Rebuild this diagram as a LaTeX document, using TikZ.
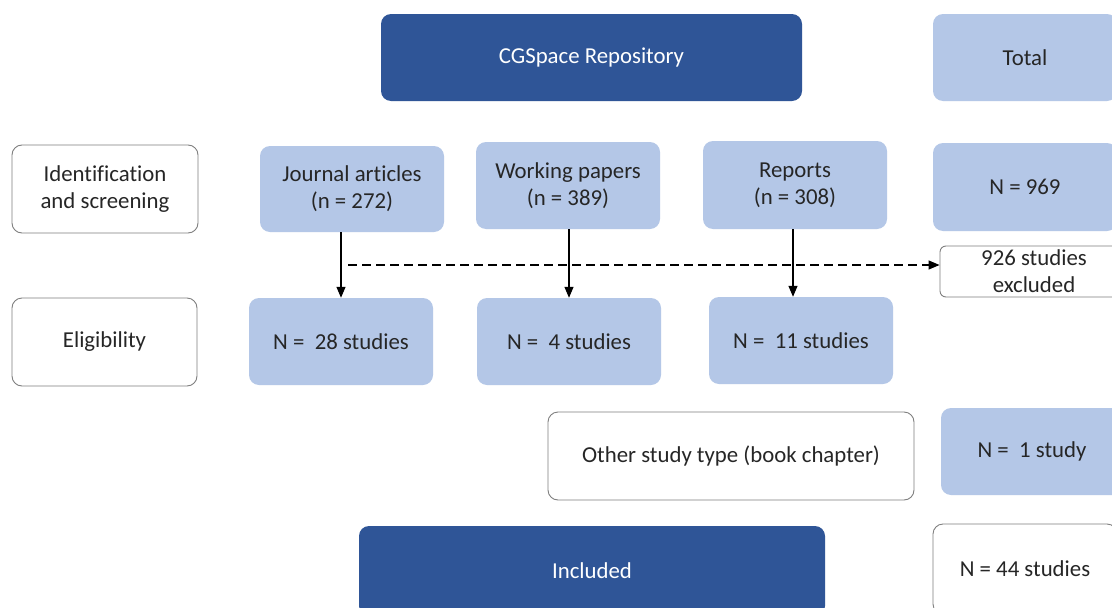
\documentclass[tikz,border=0pt]{standalone}
\usepackage{fontspec}
\setmainfont{Carlito}[Ligatures=NoCommon]
\usetikzlibrary{arrows.meta}
\definecolor{dkblue}{HTML}{2F5597}
\definecolor{ltblue}{HTML}{B4C7E7}
\definecolor{bgray}{HTML}{7F7F7F}
\tikzset{
  box/.style={rounded corners=10pt, minimum width=184pt, minimum height=87pt, align=center, inner sep=2pt, font=\fontsize{22.8pt}{27pt}\selectfont},
  dark/.style={box, fill=dkblue, text=white},
  light/.style={box, fill=ltblue, text=black!85},
  plain/.style={box, draw=bgray, line width=0.9pt, fill=white, text=black!85},
  arr/.style={line width=1.2pt, -{Triangle[length=11pt,width=9pt]}},
}
\begin{document}
\begin{tikzpicture}[x=1pt,y=-1pt]
\useasboundingbox (0,0) rectangle (1112,608);
\clip (0,0) rectangle (1112,608);
\fill[white] (0,0) rectangle (1112,608);
% top row
\node[dark, minimum width=421pt] (cg) at (591.5,57.5) {CGSpace Repository};
\node[light] (total) at (1025,57.5) {Total};
% identification row
\node[plain, minimum width=186pt, minimum height=88pt] (ident) at (105,189) {Identification\\and screening};
\node[light, minimum height=86pt] (ja) at (352,189) {Journal articles\\(n = 272)};
\node[light] (wp) at (568,185.5) {Working papers\\(n = 389)};
\node[light, minimum height=88pt] (rep) at (795,185) {Reports\\(n = 308)};
\node[light, minimum height=88pt] (n969) at (1025,187) {N = 969};
\node[plain, minimum width=188pt, minimum height=51pt, rounded corners=6pt, inner sep=0pt] (excl) at (1034,271.5) {926 studies\\excluded};
% eligibility row
\node[plain, minimum width=185pt, minimum height=88pt] (elig) at (104.5,342) {Eligibility};
\node[light] (n28) at (341,341.5) {N =\ \ 28 studies};
\node[light] (n4) at (569,341.5) {N =\ \ 4 studies};
\node[light] (n11) at (801,340.5) {N =\ \ 11 studies};
% other row
\node[plain, minimum width=366pt, minimum height=88pt] (other) at (731,456) {Other study type (book chapter)};
\node[light, minimum width=182pt] (n1) at (1032,451.5) {N =\ \ 1 study};
% included row
\node[dark, minimum width=466pt, minimum height=90pt] (incl) at (592,571) {Included};
\node[plain, minimum width=184pt, minimum height=90pt] (n44) at (1025,569) {N = 44 studies};
% arrows
\draw[arr] (ja.south -| 341,0) -- (n28.north -| 341,0);
\draw[arr] (wp.south -| 569,0) -- (n4.north -| 569,0);
\draw[arr] (rep.south -| 793,0) -- (n11.north -| 793,0);
\coordinate (dstart) at (348,265);
\draw[arr, dash pattern=on 9pt off 5pt] (dstart) -- (dstart -| excl.west);
\end{tikzpicture}
\end{document}
